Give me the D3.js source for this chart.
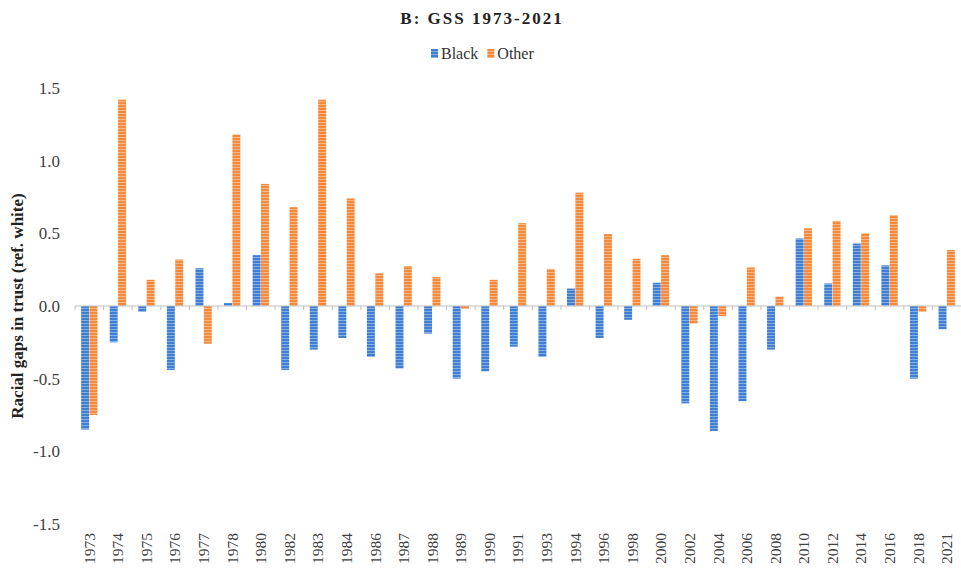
<!DOCTYPE html>
<html>
<head>
<meta charset="utf-8">
<script src="https://cdn.jsdelivr.net/npm/d3@7"></script>
<style>
  body { margin: 0; background: #fff; }
  text { font-family: "Liberation Serif", "Times New Roman", serif; }
</style>
</head>
<body>
<svg id="chart"></svg>
<script>
const WIDTH = 961;
const HEIGHT = 570;

const years = ["1973", "1974", "1975", "1976", "1977", "1978", "1980", "1982", "1983", "1984",
  "1986", "1987", "1988", "1989", "1990", "1991", "1993", "1994", "1996", "1998",
  "2000", "2002", "2004", "2006", "2008", "2010", "2012", "2014", "2016", "2018", "2021"];
const seriesNames = ["Black", "Other"];
const black = [-0.85, -0.25, -0.04, -0.44, 0.26, 0.02, 0.35, -0.44, -0.30, -0.22,
  -0.35, -0.43, -0.19, -0.50, -0.45, -0.28, -0.35, 0.12, -0.22, -0.095,
  0.16, -0.67, -0.86, -0.655, -0.30, 0.465, 0.155, 0.43, 0.28, -0.50, -0.16];
const other = [-0.75, 1.42, 0.18, 0.32, -0.26, 1.18, 0.84, 0.68, 1.42, 0.74,
  0.225, 0.275, 0.20, -0.02, 0.18, 0.57, 0.255, 0.78, 0.495, 0.325,
  0.35, -0.12, -0.07, 0.265, 0.065, 0.535, 0.585, 0.50, 0.625, -0.04, 0.385];
const yTicks = [-1.5, -1.0, -0.5, 0.0, 0.5, 1.0, 1.5];
const colors = ["#3f7fd4", "#f58a3d"];

const rows = years.map((y, i) => ({ year: y, Black: black[i], Other: other[i] }));

const svg = d3.select("#chart").attr("width", WIDTH).attr("height", HEIGHT);

// stripey fills like the original export
const defs = svg.append("defs");
seriesNames.forEach((name, i) => {
  const p = defs.append("pattern")
    .attr("id", "pat-" + name)
    .attr("patternUnits", "userSpaceOnUse")
    .attr("width", 4).attr("height", 3);
  p.append("rect").attr("width", 4).attr("height", 3).attr("fill", colors[i]);
  p.append("rect").attr("y", 2).attr("width", 4).attr("height", 0.8)
    .attr("fill", "#fff").attr("opacity", 0.45);
});

const x = d3.scaleBand().domain(years).range([75, 961]).paddingInner(0.4).paddingOuter(0.2);
const xInner = d3.scaleBand().domain(seriesNames).range([0, x.bandwidth()]).padding(0.05);
const y = d3.scaleLinear().domain([-1.5, 1.5]).range([524, 88]);

// title
svg.append("text")
  .attr("x", 482).attr("y", 24)
  .attr("text-anchor", "middle")
  .attr("font-size", 17).attr("font-weight", "bold")
  .attr("letter-spacing", 2)
  .attr("fill", "#222")
  .text("B: GSS 1973-2021");

// legend
const legend = svg.append("g").attr("transform", "translate(431,55)");
let lx = 0;
seriesNames.forEach((name, i) => {
  legend.append("rect").attr("x", lx).attr("y", -6).attr("width", 7).attr("height", 9)
    .attr("fill", `url(#pat-${name})`);
  const t = legend.append("text").attr("x", lx + 10).attr("y", 4)
    .attr("font-size", 16).attr("fill", "#333").text(name);
  lx += 10 + t.node().getComputedTextLength() + 9;
});

// y axis (labels only)
const fmt = d3.format(".1f");
const yAxis = svg.append("g").attr("transform", "translate(60,0)")
  .call(d3.axisLeft(y).tickValues(yTicks).tickSize(0).tickPadding(0));
yAxis.select(".domain").remove();
yAxis.selectAll("text")
  .attr("font-size", 17).attr("fill", "#404040")
  .style("font-family", "'Liberation Serif', serif")
  .text(d => fmt(d).replace("\u2212", "-"));

svg.append("text")
  .attr("transform", `translate(23,${(y(1.5) + y(-1.5)) / 2}) rotate(-90)`)
  .attr("text-anchor", "middle")
  .attr("font-size", 17).attr("font-weight", "bold").attr("fill", "#222")
  .text("Racial gaps in trust (ref. white)");

// bars
const groups = svg.append("g").selectAll("g").data(rows).join("g")
  .attr("transform", d => `translate(${x(d.year)},0)`);
groups.selectAll("rect")
  .data(d => seriesNames.map(k => ({ key: k, value: d[k] })))
  .join("rect")
  .attr("x", d => xInner(d.key))
  .attr("width", xInner.bandwidth())
  .attr("y", d => y(Math.max(0, d.value)))
  .attr("height", d => Math.abs(y(d.value) - y(0)))
  .attr("fill", d => `url(#pat-${d.key})`);

// zero axis with small ticks between categories
const zero = svg.append("g").attr("transform", `translate(0,${y(0)})`);
zero.append("line").attr("x1", 75).attr("x2", 961).attr("stroke", "#bfbfbf").attr("stroke-width", 1);
zero.selectAll("line.tick").data(years).join("line")
  .attr("class", "tick")
  .attr("x1", d => x(d) - x.step() * x.paddingInner() / 2)
  .attr("x2", d => x(d) - x.step() * x.paddingInner() / 2)
  .attr("y1", 0).attr("y2", 4)
  .attr("stroke", "#bfbfbf");

// rotated year labels
const xAxis = svg.append("g").attr("transform", "translate(0,533)")
  .call(d3.axisBottom(x).tickSize(0).tickPadding(0));
xAxis.select(".domain").remove();
xAxis.selectAll("text")
  .attr("font-size", 15.5).attr("fill", "#404040")
  .style("font-family", "'Liberation Serif', serif")
  .attr("text-anchor", "end")
  .attr("transform", "rotate(-90)")
  .attr("x", 0).attr("y", 0).attr("dy", "0.35em");
</script>
</body>
</html>
